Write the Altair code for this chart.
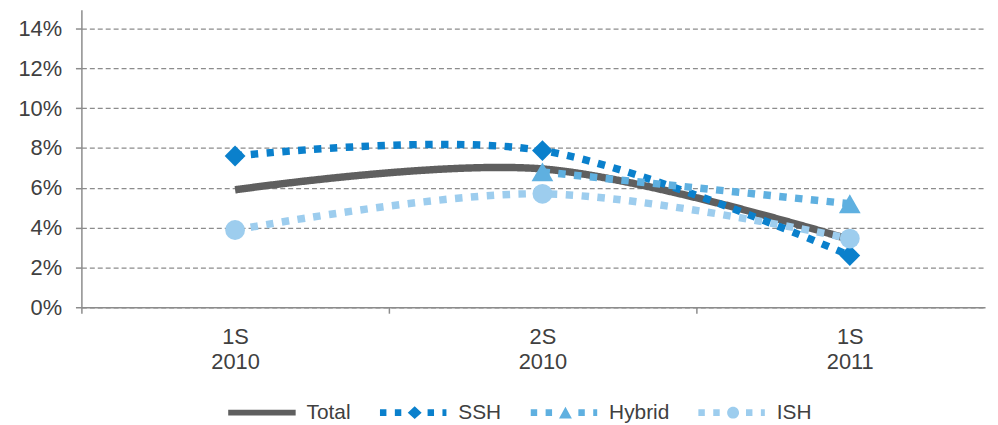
import altair as alt
import pandas as pd

# ---- data ----
period_line1 = ["1S", "2S", "1S"]
period_line2 = ["2010", "2010", "2011"]
series = ["Total", "SSH", "Hybrid", "ISH"]
total = [0.059, 0.0695, 0.034]
ssh = [0.076, 0.0787, 0.026]
hybrid = [None, 0.068, 0.052]
ish = [0.0388, 0.057, 0.0345]
y_ticks = [0, 0.02, 0.04, 0.06, 0.08, 0.10, 0.12, 0.14]

# ---- style ----
colors = ["#5f5f5f", "#0a80cc", "#5fb0e0", "#9dcdee"]
dashes = [[1, 0], [7.5, 8.5], [7.5, 8.5], [7.5, 8.5]]
markers = [None, "diamond", "triangle-up", "circle"]
marker_sizes = [0, 440, 480, 400]
FONT = "Liberation Sans"
TXT = "#404040"
AXC = "#8c8c8c"

rows = []
for name, vals in zip(series, [total, ssh, hybrid, ish]):
    for i, v in enumerate(vals):
        if v is not None:
            rows.append({"series": name, "idx": i, "value": v})
df = pd.DataFrame(rows)

label_expr = " : ".join(
    f"datum.value == {i} ? ['{a}', '{b}']"
    for i, (a, b) in enumerate(zip(period_line1, period_line2))
) + " : ''"
x_vals = [-0.5, 0, 0.5, 1, 1.5, 2]

x_enc = alt.X(
    "idx:Q",
    scale=alt.Scale(domain=[-0.5, 2.44], nice=False, zero=False),
    axis=alt.Axis(
        values=x_vals, labelExpr=label_expr, title=None, grid=False,
        tickOpacity={"condition": {"test": "datum.value % 1 != 0", "value": 1}, "value": 0},
        tickSize=6, tickWidth=1.5, tickColor=AXC, domainColor=AXC, domainWidth=1.5,
        labelFont=FONT, labelFontSize=22, labelColor=TXT, labelPadding=14,
        labelLineHeight=25, labelOverlap=False, labelFlush=False,
    ),
)
y_enc = alt.Y(
    "value:Q",
    scale=alt.Scale(domain=[0, 0.1495], nice=False),
    axis=alt.Axis(
        values=y_ticks, format=".0%", title=None, grid=True,
        gridDash=[5, 3], gridColor=AXC, gridWidth=1.3,
        tickSize=6, tickWidth=1.5, tickColor=AXC, domainColor=AXC, domainWidth=1.5,
        labelFont=FONT, labelFontSize=22, labelColor=TXT, labelPadding=14,
    ),
)

base = alt.Chart(df)
layers = []
for name, col, dash, mk, ms in zip(series, colors, dashes, markers, marker_sizes):
    sub = base.transform_filter(alt.datum.series == name)
    layers.append(
        sub.mark_line(interpolate="cardinal", tension=0, strokeWidth=7.5, strokeCap="butt",
                      color=col, strokeDash=dash)
        .encode(x=x_enc, y=y_enc)
    )
    if mk:
        layers.append(
            sub.mark_point(filled=True, shape=mk, size=ms, opacity=1, strokeWidth=0, color=col)
            .encode(x=x_enc, y=y_enc)
        )


# legend symbols as custom paths (pixel units, symbolSize=4 -> scale 1)
def sq(x0, w=6.5, h=3.3):
    return f"M{x0:.1f},{-h}h{w}v{2*h}h{-w}Z"


OFF = -10.5
def dotted(marker):
    p = sq(0 + OFF) + sq(15 + OFF) + sq(48 + OFF) + sq(63 + OFF, w=4)
    c = 35 + OFF
    if marker == "diamond":
        p += f"M{c-7},0L{c},-6.5L{c+7},0L{c},6.5Z"
    elif marker == "triangle":
        p += f"M{c-6.5},6L{c},-6L{c+6.5},6Z"
    else:
        p += f"M{c-6},0A6,6 0 1,0 {c+6},0A6,6 0 1,0 {c-6},0Z"
    return p


legend_paths = [
    f"M{OFF},-3H{OFF+68}V3H{OFF}Z",
    dotted("diamond"),
    dotted("triangle"),
    dotted("circle"),
]

leg = alt.Legend(
    orient="none", legendX=148, legendY=395.5, direction="horizontal",
    title=None, symbolSize=4, symbolStrokeWidth=0, symbolOffset=0,
    labelFont=FONT, labelFontSize=21, labelColor=TXT, labelOffset=58,
    columnPadding=29, padding=0, labelLimit=200,
)
legend_layer = base.transform_filter("false").mark_point(filled=True, opacity=1).encode(
    x=x_enc, y=y_enc,
    color=alt.Color("series:N", scale=alt.Scale(domain=series, range=colors), legend=leg),
    shape=alt.Shape("series:N", scale=alt.Scale(domain=series, range=legend_paths), legend=leg),
)
layers.append(legend_layer)

chart = (
    alt.layer(*layers)
    .properties(
        width=911, height=300, autosize="none",
        padding={"left": 74, "top": 0, "right": 5, "bottom": 116},
        background="white",
    )
    .configure_view(stroke=None)
)

chart.save("out.html", embed_options={"renderer": "svg", "actions": False})
